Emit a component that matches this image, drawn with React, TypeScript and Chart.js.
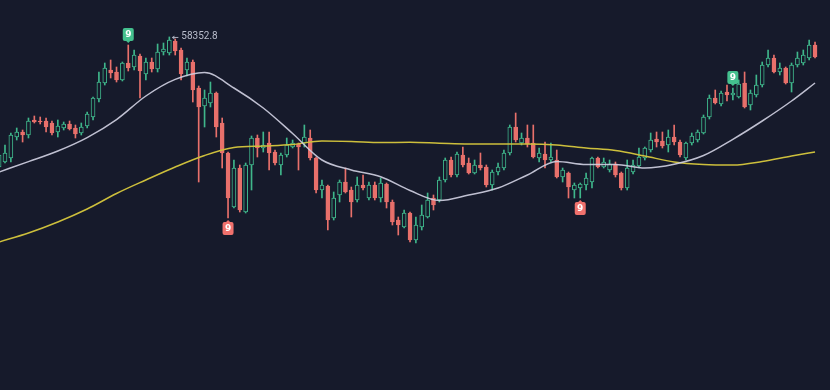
import React, { useEffect, useRef } from 'react';
import { Chart, registerables } from 'chart.js';

Chart.register(...registerables);

const BG = '#161a2b';
const UP = '#3fb68b';
const DOWN = '#e8706b';
const UP_SIGNAL = '#44c08e';
const DOWN_SIGNAL = '#f0716d';
const MA_FAST_COLOR = 'rgba(206,206,224,0.92)';
const MA_SLOW_COLOR = '#cdbf3c';

// OHLC per candle (index 0 is the partially visible candle at the left edge)
const opens = [
  51850, 52100, 52300, 53350, 53600, 53450, 54200, 54150, 54150, 54050,
  53600, 53800, 54000, 53800, 53550, 53900, 54350, 55250, 56050, 56700,
  56600, 56200, 57050, 56850, 57400, 56500, 57100, 56750, 57600, 57550,
  58150, 57700, 56700, 57100, 55800, 54900, 55050, 55550, 54050, 52550,
  49850, 51800, 49600, 51950, 53300, 52800, 53050, 52600, 51950, 52450,
  52850, 53000, 53050, 53300, 52300, 50700, 50900, 49300, 50450, 51100,
  50700, 50200, 50950, 50300, 50950, 50300, 51000, 50100, 49200, 48850,
  49550, 48200, 48850, 49350, 50300, 50200, 51200, 52200, 51450, 52450,
  52050, 51550, 51950, 51850, 50950, 51600, 51800, 52550, 53850, 53050,
  53300, 53050, 52300, 52500, 52200, 52200, 51350, 51550, 50700, 50800,
  50950, 51100, 52300, 51850, 51700, 52000, 51550, 50800, 51600, 51900,
  52300, 52700, 53250, 53150, 52950, 53350, 53100, 52300, 53050, 53200,
  53550, 54350, 55300, 55000, 55600, 55450, 55350, 56050, 54950, 55450,
  55950, 56950, 57300, 56600, 56800, 56050, 56950, 57050, 57300, 57950,
];
const highs = [
  52700, 52950, 53550, 53800, 53700, 54300, 54400, 54350, 54300, 54150,
  54200, 54100, 54150, 53950, 54050, 54600, 55350, 56600, 57050, 57200,
  56850, 57100, 57950, 57700, 57500, 57300, 57300, 58000, 58050, 58352.8,
  58250, 57800, 57300, 57200, 55900, 55700, 56100, 55600, 54300, 52600,
  52200, 51950, 52050, 53400, 53450, 53600, 53600, 52700, 52550, 53300,
  53200, 53050, 53950, 53700, 52350, 51200, 50950, 50600, 51200, 51800,
  50850, 51350, 51450, 51100, 51100, 51300, 51050, 50200, 49350, 49700,
  49600, 49350, 49950, 50550, 50450, 51350, 52300, 52350, 52600, 52850,
  52300, 52200, 52550, 51950, 51700, 52050, 52700, 53950, 54550, 53550,
  53950, 53950, 52800, 53100, 53050, 52700, 51800, 51600, 51050, 51050,
  51550, 52350, 52350, 52300, 52200, 52100, 51600, 52200, 52200, 52800,
  52850, 53550, 53600, 53600, 53700, 53950, 53200, 53100, 53550, 53700,
  54450, 55450, 55700, 55650, 55950, 55800, 56200, 56600, 55700, 56450,
  57100, 57700, 57450, 57050, 56850, 57050, 57600, 57700, 58200, 58100,
];
const lows = [
  51700, 52050, 52100, 53200, 53100, 53300, 54050, 54000, 53600, 53450,
  53350, 53700, 53700, 53300, 53450, 53800, 54200, 55100, 55950, 56300,
  56100, 56150, 56650, 56700, 55300, 56200, 56600, 56600, 57450, 57450,
  57450, 56200, 56400, 55100, 51100, 53850, 54850, 53350, 51800, 49300,
  49800, 49600, 49550, 50700, 52350, 52600, 51700, 51950, 51450, 52350,
  52800, 51700, 52850, 52200, 50550, 50300, 48700, 49200, 50100, 50550,
  49350, 50100, 50700, 50200, 50200, 50100, 49800, 48950, 48450, 48800,
  48100, 48050, 48700, 49300, 49700, 50100, 51100, 51350, 51350, 51850,
  51500, 51500, 51700, 50850, 50700, 51450, 51700, 52450, 53100, 52950,
  52850, 52300, 52100, 51800, 52100, 51300, 51100, 50300, 50300, 50300,
  50700, 50800, 51800, 51800, 51600, 51350, 50700, 50700, 51500, 51800,
  52200, 52600, 52850, 52800, 52600, 52950, 52350, 52200, 52950, 53100,
  53500, 54250, 55000, 54900, 55150, 55200, 55300, 54800, 54700, 55350,
  55850, 56850, 56550, 56450, 56000, 55600, 56850, 56950, 57200, 57300,
];
const closes = [
  52450, 52550, 53450, 53600, 53450, 54150, 54100, 54100, 53850, 53550,
  53900, 54000, 53750, 53500, 53850, 54500, 55300, 56100, 56800, 56550,
  56200, 57050, 56800, 57450, 56650, 57100, 56750, 57600, 57750, 58200,
  57650, 56500, 57100, 55700, 54850, 55300, 55550, 53850, 52550, 50300,
  51800, 49700, 51950, 53300, 52800, 52950, 52550, 52050, 52450, 52950,
  53050, 52850, 53350, 52300, 50700, 50950, 49200, 50300, 51100, 50600,
  50100, 50950, 50800, 50950, 50300, 51050, 50100, 49100, 48950, 49550,
  48200, 48950, 49450, 50200, 49950, 51200, 52200, 51450, 52500, 51950,
  51550, 51950, 51800, 50950, 51600, 51850, 52550, 53850, 53200, 53300,
  53000, 52350, 52550, 52200, 52350, 51350, 51700, 50850, 50950, 51000,
  51300, 52300, 51850, 52100, 52000, 51450, 50800, 51800, 51950, 52350,
  52800, 53200, 53100, 52900, 53350, 53100, 52450, 53050, 53400, 53600,
  54350, 55300, 55050, 55550, 55450, 55550, 56000, 54850, 55550, 55950,
  56950, 57300, 56600, 56800, 56050, 56950, 57300, 57450, 57950, 57350,
];

// Moving averages, read at every fifth candle
const maIndex = [
  0, 5, 10, 15, 20, 25, 30, 35, 40, 45, 50, 55, 60, 65, 70, 75, 80, 85, 90, 95,
  100, 105, 110, 115, 120, 125, 130, 135, 139,
];
const maFast = [
  51600, 52120, 52650, 53320, 54220, 55400, 56230, 56575, 55800, 54800,
  53525, 52200, 51700, 51360, 50675, 50175, 50450, 50800, 51450, 52125,
  51975, 51975, 51800, 51990, 52425, 53235, 54150, 55150, 56050,
];
const maSlow = [
  48100, 48550, 49100, 49750, 50525, 51200, 51850, 52425, 52825, 52900,
  52975, 53150, 53125, 53075, 53085, 53040, 53000, 53000, 53000, 52950,
  52800, 52675, 52400, 52100, 51975, 51950, 52125, 52400, 52600,
];

// Sequential "9" signals
const signalIndex = [22, 39, 99, 125];
const signalSide = ['up', 'down', 'down', 'up'];
const signalText = ['9', '9', '9', '9'];

// Highest-high label
const peakIndex = 29;
const peakLabel = '58352.8';

const X_MIN = 0.15;
const X_MAX = 141.55;
const Y_MIN = 40700;
const Y_MAX = 60200;

const signalPlugin = {
  id: 'signals',
  afterDatasetsDraw(chart: any) {
    const { ctx } = chart;
    const xs = chart.scales.x;
    const ys = chart.scales.y;
    ctx.save();
    signalIndex.forEach((idx, k) => {
      const up = signalSide[k] === 'up';
      const cx = xs.getPixelForValue(idx);
      const py = ys.getPixelForValue(up ? highs[idx] : lows[idx]);
      const w = 11;
      const h = 13;
      const gap = 4;
      const top = up ? py - gap - h : py + gap;
      const color = up ? UP_SIGNAL : DOWN_SIGNAL;
      ctx.fillStyle = color;
      ctx.beginPath();
      ctx.roundRect(cx - w / 2, top, w, h, 2);
      ctx.fill();
      // small pointer toward the candle
      ctx.beginPath();
      if (up) {
        ctx.moveTo(cx - 2, top + h);
        ctx.lineTo(cx + 2, top + h);
        ctx.lineTo(cx, top + h + 2);
      } else {
        ctx.moveTo(cx - 2, top);
        ctx.lineTo(cx + 2, top);
        ctx.lineTo(cx, top - 2);
      }
      ctx.fill();
      ctx.fillStyle = '#ffffff';
      ctx.font = 'bold 9px "DejaVu Sans", sans-serif';
      ctx.textAlign = 'center';
      ctx.textBaseline = 'middle';
      ctx.fillText(signalText[k], cx, top + h / 2 + 0.5);
    });

    // peak label with arrow
    const px = xs.getPixelForValue(peakIndex);
    const py = ys.getPixelForValue(highs[peakIndex]);
    ctx.strokeStyle = '#a9adbd';
    ctx.fillStyle = '#a9adbd';
    ctx.lineWidth = 1;
    ctx.beginPath();
    ctx.moveTo(px + 3, py + 0.5);
    ctx.lineTo(px + 9, py + 0.5);
    ctx.stroke();
    ctx.beginPath();
    ctx.moveTo(px + 2.5, py + 0.5);
    ctx.lineTo(px + 5, py - 1.5);
    ctx.lineTo(px + 5, py + 2.5);
    ctx.closePath();
    ctx.fill();
    ctx.fillStyle = '#b9bdcc';
    ctx.font = '10px Roboto, "DejaVu Sans", sans-serif';
    ctx.textAlign = 'left';
    ctx.textBaseline = 'middle';
    ctx.fillText(peakLabel, px + 12, py);
    ctx.restore();
  },
};

export default function App() {
  const canvasRef = useRef<HTMLCanvasElement | null>(null);

  useEffect(() => {
    document.body.style.margin = '0';
    document.body.style.background = BG;
    const canvas = canvasRef.current;
    if (!canvas) return;
    const idxs = opens.map((_, i) => i);
    const isUp = (i: number) => closes[i] >= opens[i];

    const chart = new Chart(canvas, {
      type: 'bar',
      data: {
        datasets: [
          {
            type: 'line',
            data: maIndex.map((v, k) => ({ x: v, y: maFast[k] })),
            borderColor: MA_FAST_COLOR,
            borderWidth: 1.5,
            pointRadius: 0,
            tension: 0.4,
            cubicInterpolationMode: 'monotone',
            order: 0,
          } as any,
          {
            type: 'line',
            data: maIndex.map((v, k) => ({ x: v, y: maSlow[k] })),
            borderColor: MA_SLOW_COLOR,
            borderWidth: 1.5,
            pointRadius: 0,
            tension: 0.4,
            cubicInterpolationMode: 'monotone',
            order: 0,
          } as any,
          {
            type: 'bar',
            data: idxs.map((i) => ({ x: i, y: [opens[i], closes[i]] })),
            backgroundColor: idxs.map((i) => (isUp(i) ? BG : DOWN)),
            borderColor: idxs.map((i) => (isUp(i) ? UP : DOWN)),
            borderWidth: 1,
            borderSkipped: false,
            barThickness: 4,
            minBarLength: 1,
            grouped: false,
            order: 1,
          } as any,
          {
            type: 'bar',
            data: idxs.map((i) => ({ x: i, y: [lows[i], highs[i]] })),
            backgroundColor: idxs.map((i) => (isUp(i) ? UP : DOWN)),
            borderWidth: 0,
            barThickness: 1,
            grouped: false,
            order: 2,
          } as any,
        ],
      },
      options: {
        responsive: false,
        maintainAspectRatio: false,
        animation: false,
        devicePixelRatio: 1,
        events: [],
        layout: { padding: 0 },
        plugins: {
          legend: { display: false },
          tooltip: { enabled: false },
        },
        scales: {
          x: { type: 'linear', min: X_MIN, max: X_MAX, offset: false, display: false },
          y: { type: 'linear', min: Y_MIN, max: Y_MAX, display: false },
        },
      } as any,
      plugins: [signalPlugin],
    });
    return () => chart.destroy();
  }, []);

  return (
    <div style={{ position: 'absolute', left: 0, top: 0, width: 830, height: 390, background: BG }}>
      <canvas ref={canvasRef} width={830} height={390} style={{ display: 'block' }} />
    </div>
  );
}
